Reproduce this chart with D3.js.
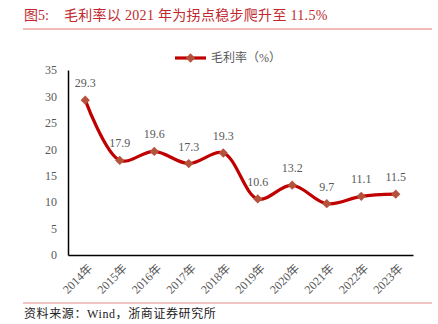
<!DOCTYPE html>
<html>
<head>
<meta charset="utf-8">
<script src="https://cdn.jsdelivr.net/npm/d3@7"></script>
<style>
  html, body { margin: 0; padding: 0; background: #fff; }
  svg { display: block; }
</style>
</head>
<body>
<svg id="chart" width="438" height="324"></svg>
<script>
// Gross margin by year (%)
const years = ["2014年", "2015年", "2016年", "2017年", "2018年", "2019年", "2020年", "2021年", "2022年", "2023年"];
const margin = [29.3, 17.9, 19.6, 17.3, 19.3, 10.6, 13.2, 9.7, 11.1, 11.5];
const yTicks = [0, 5, 10, 15, 20, 25, 30, 35];
const seriesName = "毛利率（%）";
const titleLabel = "图5:";
const titleText = "毛利率以 2021 年为拐点稳步爬升至 11.5%";
const sourceText = "资料来源：Wind，浙商证券研究所";

const serif = "'Liberation Serif', 'Times New Roman', 'Noto Sans CJK SC', serif";
const lineColor = "#c00000";
const markerColor = "#b5523b";
const textGrey = "#595959";

const svg = d3.select("#chart");

// Header
svg.append("text")
  .attr("x", 24).attr("y", 20)
  .attr("font-family", serif)
  .attr("font-size", 14)
  .attr("fill", "#c0282d")
  .text(titleLabel);
svg.append("text")
  .attr("x", 64).attr("y", 20)
  .attr("font-family", serif)
  .attr("font-size", 14)
  .attr("letter-spacing", 0.3)
  .attr("fill", "#c0282d")
  .text(titleText);
svg.append("line")
  .attr("x1", 23).attr("x2", 432).attr("y1", 29).attr("y2", 29)
  .attr("stroke", "#d9534f").attr("stroke-width", 0.8);

// Footer
svg.append("line")
  .attr("x1", 23).attr("x2", 432).attr("y1", 303).attr("y2", 303)
  .attr("stroke", "#e08a86").attr("stroke-width", 1);
svg.append("text")
  .attr("x", 24).attr("y", 318)
  .attr("font-family", serif)
  .attr("font-size", 12)
  .attr("letter-spacing", 0.6)
  .attr("fill", "#222")
  .text(sourceText);

// Plot area
const plotLeft = 68, plotRight = 413, plotTop = 70, plotBottom = 255;
const x = d3.scaleBand().domain(years).range([plotLeft, plotRight]);
const y = d3.scaleLinear().domain([0, 35]).range([plotBottom, plotTop]);
const cx = d => x(d) + x.bandwidth() / 2;

// Y axis labels
const yAxis = svg.append("g")
  .attr("transform", `translate(${plotLeft},0)`)
  .call(d3.axisLeft(y).tickValues(yTicks).tickSize(0).tickPadding(11));
yAxis.select(".domain").attr("stroke", "#000").attr("stroke-width", 1.5);
yAxis.selectAll("text")
  .attr("font-family", serif).attr("font-size", 12).attr("fill", textGrey);

// X axis labels (rotated)
const xAxis = svg.append("g")
  .attr("transform", `translate(0,${plotBottom})`)
  .call(d3.axisBottom(x).tickSize(0).tickPadding(6));
xAxis.select(".domain").attr("stroke", "#000").attr("stroke-width", 1.5);
xAxis.selectAll("text")
  .attr("font-family", serif).attr("font-size", 12).attr("fill", textGrey)
  .attr("text-anchor", "end")
  .attr("dy", "0.35em")
  .attr("transform", "translate(5,11) rotate(-45)")
  .attr("x", 0).attr("y", 0);

// Series line
const pts = years.map((yr, i) => ({ yr, v: margin[i] }));
const line = d3.line()
  .x(d => cx(d.yr))
  .y(d => y(d.v))
  .curve(d3.curveCatmullRom.alpha(0.5));
svg.append("path")
  .datum(pts)
  .attr("d", line)
  .attr("fill", "none")
  .attr("stroke", lineColor)
  .attr("stroke-width", 3.2)
  .attr("stroke-linejoin", "round");

// Diamond markers
const diamond = d3.symbol().type(d3.symbolDiamond2).size(55);
svg.append("g").selectAll("path")
  .data(pts)
  .join("path")
  .attr("d", diamond)
  .attr("transform", d => `translate(${cx(d.yr)},${y(d.v)})`)
  .attr("fill", markerColor);

// Value labels
svg.append("g").selectAll("text")
  .data(pts)
  .join("text")
  .attr("x", d => cx(d.yr))
  .attr("y", d => y(d.v) - 13)
  .attr("text-anchor", "middle")
  .attr("font-family", serif)
  .attr("font-size", 12)
  .attr("fill", textGrey)
  .text(d => d.v.toFixed(1));

// Legend
const lg = svg.append("g").attr("transform", "translate(175,58)");
lg.append("line").attr("x1", 0).attr("x2", 31).attr("y1", 0).attr("y2", 0)
  .attr("stroke", lineColor).attr("stroke-width", 3.2);
lg.append("path").attr("d", diamond).attr("transform", "translate(15.5,0)").attr("fill", markerColor);
lg.append("text")
  .attr("x", 36).attr("y", 0).attr("dy", "0.35em")
  .attr("font-family", serif).attr("font-size", 12).attr("fill", textGrey)
  .text(seriesName);
</script>
</body>
</html>
